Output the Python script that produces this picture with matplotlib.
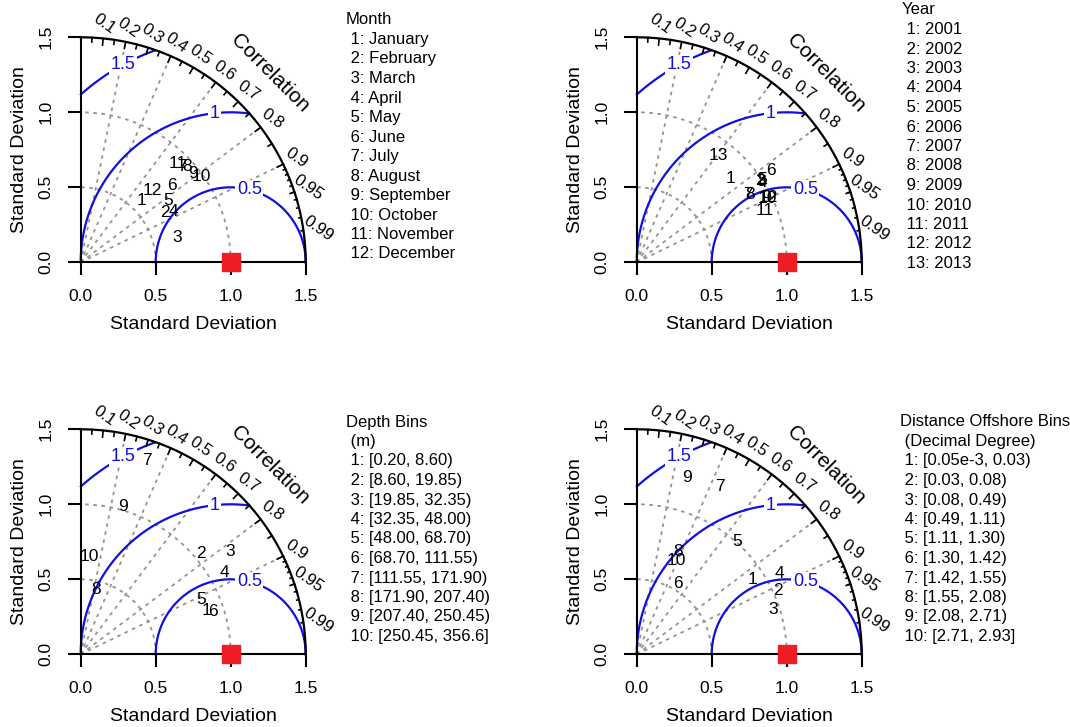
import numpy as np
import matplotlib
matplotlib.use('Agg')
import matplotlib.pyplot as plt

plt.rcParams['font.family'] = ['Liberation Sans', 'DejaVu Sans']

W, H = 1070, 727

# data: standard deviation and correlation of each numbered point
month_sd = [0.581, 0.652, 0.661, 0.705, 0.716, 0.793, 0.930, 0.955, 0.954, 0.989, 0.919, 0.679]
month_cor = [0.700, 0.862, 0.968, 0.875, 0.815, 0.766, 0.724, 0.745, 0.783, 0.816, 0.701, 0.707]
month_legend = ['Month', ' 1: January', ' 2: February', ' 3: March', ' 4: April', ' 5: May',
                ' 6: June', ' 7: July', ' 8: August', ' 9: September', ' 10: October',
                ' 11: November', ' 12: December']

year_sd = [0.841, 0.985, 0.990, 0.993, 1.000, 1.082, 0.869, 0.881, 0.962, 0.968, 0.923, 0.976, 0.898]
year_cor = [0.746, 0.833, 0.838, 0.846, 0.835, 0.825, 0.856, 0.860, 0.894, 0.899, 0.926, 0.897, 0.606]
year_legend = ['Year'] + [' %d: %d' % (i, 2000 + i) for i in range(1, 14)]

depth_sd = [0.889, 1.045, 1.207, 1.099, 0.884, 0.925, 1.368, 0.445, 1.024, 0.653]
depth_cor = [0.945, 0.765, 0.824, 0.869, 0.912, 0.952, 0.322, 0.229, 0.277, 0.087]
depth_legend = ['Depth Bins', ' (m)', ' 1: [0.20, 8.60)', ' 2: [8.60, 19.85)', ' 3: [19.85, 32.35)',
                ' 4: [32.35, 48.00)', ' 5: [48.00, 68.70)', ' 6: [68.70, 111.55)',
                ' 7: [111.55, 171.90)', ' 8: [171.90, 207.40)', ' 9: [207.40, 250.45)',
                ' 10: [250.45, 356.6]']

dist_sd = [0.922, 1.035, 0.958, 1.097, 1.010, 0.543, 1.247, 0.738, 1.226, 0.677]
dist_cor = [0.839, 0.912, 0.951, 0.870, 0.664, 0.503, 0.445, 0.375, 0.272, 0.394]
dist_legend = ['Distance Offshore Bins', ' (Decimal Degree)', ' 1: [0.05e-3, 0.03)', ' 2: [0.03, 0.08)',
               ' 3: [0.08, 0.49)', ' 4: [0.49, 1.11)', ' 5: [1.11, 1.30)', ' 6: [1.30, 1.42)',
               ' 7: [1.42, 1.55)', ' 8: [1.55, 2.08)', ' 9: [2.08, 2.71)', ' 10: [2.71, 2.93]']

ref_sd = 1.0
max_sd = 1.5
gammas = [0.5, 1.0, 1.5]
gamma_labels = ['0.5', '1', '1.5']
corr_lines = [0.2, 0.4, 0.6, 0.8, 0.9]
corr_ticklabels = [0.1, 0.2, 0.3, 0.4, 0.5, 0.6, 0.7, 0.8, 0.9, 0.95, 0.99]

GRAY = '#959595'
BLUE = '#1010e0'


def taylor(ox, oy, sd, cor, legend, lx, ly):
    # ox, oy: pixel position of the origin; 1.5 units = 225 px
    size = 225
    ax = plt.gcf().add_axes([ox / W, 1 - oy / H, size / W, size / H])
    ax.set_xlim(0, max_sd)
    ax.set_ylim(0, max_sd)
    for s in ['top', 'right']:
        ax.spines[s].set_visible(False)
    for s in ['left', 'bottom']:
        ax.spines[s].set_linewidth(1.5)
    ax.set_xticks([0, 0.5, 1, 1.5])
    ax.set_yticks([0, 0.5, 1, 1.5])
    ax.set_xticklabels(['0.0', '0.5', '1.0', '1.5'], fontsize=12.5)
    ax.set_yticklabels(['0.0', '0.5', '1.0', '1.5'], fontsize=12.5, rotation=90, va='center')
    ax.tick_params(length=9.5, width=1.5, pad=10)
    ax.patch.set_alpha(0)

    # sd arcs around origin
    t = np.linspace(0, np.pi / 2, 200)
    for r in [0.5, 1.0]:
        ax.plot(r * np.cos(t), r * np.sin(t), color=GRAY, lw=1.3, ls=(0, (2, 2.5)))
    # correlation rays
    for c in corr_lines:
        ax.plot([0, max_sd * c], [0, max_sd * np.sqrt(1 - c * c)], color=GRAY, lw=1.3, ls=(0, (2, 2.5)))

    # centred RMS (gamma) arcs around the reference point
    tt = np.linspace(0, np.pi, 400)
    for g, gl, lpos in zip(gammas, gamma_labels, [1.32, 1.68, 2.07]):
        xc = ref_sd + g * np.cos(tt)
        yc = g * np.sin(tt)
        ok = (xc >= 0) & (xc ** 2 + yc ** 2 <= max_sd ** 2)
        ax.plot(xc[ok], yc[ok], color=BLUE, lw=1.6, clip_on=False)
        ax.text(ref_sd + g * np.cos(lpos), g * np.sin(lpos), gl, color=BLUE, fontsize=13,
                ha='center', va='center', bbox=dict(fc='white', ec='none', pad=1))

    # outer arc and correlation ticks
    ax.plot(max_sd * np.cos(t), max_sd * np.sin(t), color='black', lw=1.6, clip_on=False)
    for vals, frac in [(np.arange(0.1, 0.95, 0.1), 0.97), (np.arange(0.05, 1.0, 0.1), 0.98),
                       (np.arange(0.91, 0.995, 0.01), 0.99)]:
        for ai in np.arccos(vals):
            ax.plot([max_sd * np.cos(ai), frac * max_sd * np.cos(ai)],
                    [max_sd * np.sin(ai), frac * max_sd * np.sin(ai)], color='black', lw=1.2,
                    clip_on=False)
    for c in corr_ticklabels:
        a = np.arccos(c)
        ax.text(1.065 * max_sd * np.cos(a), 1.065 * max_sd * np.sin(a), ('%g' % c),
                fontsize=12, ha='center', va='center', rotation=-35)
    ax.text(0.84 * max_sd, 0.84 * max_sd, 'Correlation', rotation=-45, fontsize=15,
            ha='center', va='center')

    # reference point
    ax.plot([ref_sd], [0], marker='s', ms=13, color='#ee1c24', mec='#ee1c24', clip_on=False, zorder=5)

    # numbered points
    for i, (s, c) in enumerate(zip(sd, cor)):
        ax.text(s * c, s * np.sqrt(1 - c * c), str(i + 1), fontsize=12.5, ha='center', va='center')

    plt.gcf().text((ox + size / 2) / W, 1 - (oy + 62) / H, 'Standard Deviation', fontsize=14,
                   ha='center', va='center')
    plt.gcf().text((ox - 61) / W, 1 - (oy - size / 2) / H, 'Standard Deviation', fontsize=14,
                   ha='center', va='center', rotation=90)

    for k, line in enumerate(legend):
        plt.gcf().text(lx / W, 1 - (ly + k * 19.5) / H, line, fontsize=12, ha='left', va='center')
    return ax


fig = plt.figure(figsize=(W / 100, H / 100), dpi=100)
taylor(80.7, 262.3, month_sd, month_cor, month_legend, 346, 20)
taylor(636.7, 262.3, year_sd, year_cor, year_legend, 902, 10)
taylor(80.7, 654.3, depth_sd, depth_cor, depth_legend, 346, 422)
taylor(636.7, 654.3, dist_sd, dist_cor, dist_legend, 900, 422)
fig.savefig('out.png', dpi=100)
